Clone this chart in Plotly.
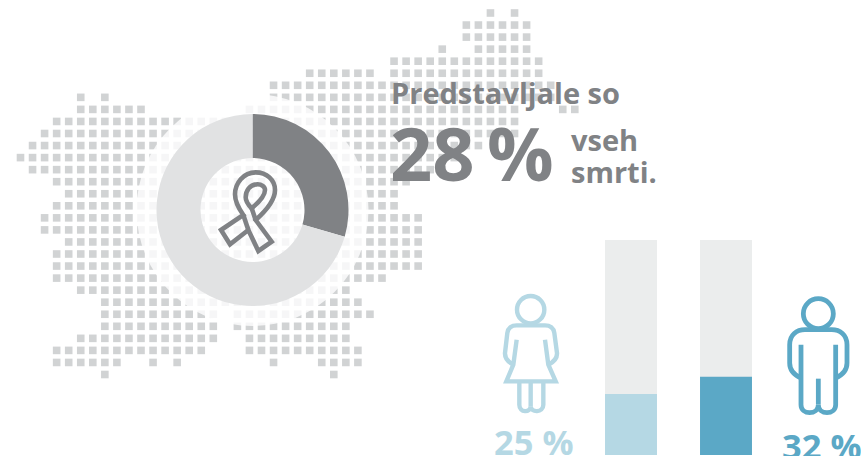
import re
import plotly.graph_objects as go

# ---- data ----
donut_labels = ["Rak", "Drugo"]
donut_values = [29.5, 70.5]  # drawn wedge as measured in the picture (label text says 28 %)
bar_categories = ["Ženske", "Moški"]
bar_values = [25, 32]
bar_track = [88, 88]
bar_labels = ["25 %", "32 %"]

# dot map: for each row, the runs of filled columns
map_rows = [
    [(39, 39), (41, 41)],
    [(37, 42)],
    [(37, 42)],
    [(35, 35), (38, 42)],
    [(31, 43)],
    [(24, 29), (31, 43)],
    [(21, 44)],
    [(5, 5), (7, 7), (21, 44)],
    [(5, 10), (19, 41), (45, 46)],
    [(3, 41)],
    [(2, 41)],
    [(1, 38)],
    [(0, 36)],
    [(1, 35)],
    [(3, 32)],
    [(4, 31)],
    [(3, 31)],
    [(2, 33)],
    [(2, 33)],
    [(4, 33)],
    [(3, 33)],
    [(3, 33)],
    [(3, 30)],
    [(5, 27)],
    [(7, 28)],
    [(7, 16), (18, 29)],
    [(7, 16), (18, 27)],
    [(5, 16), (19, 27)],
    [(3, 15), (19, 28)],
    [(3, 8), (11, 11), (13, 13), (21, 21), (25, 28)],
    [(7, 7), (26, 26)],
]

GRAY = "#808285"
LIGHT_BLUE = "#b5d8e4"
BLUE = "#5ba8c6"

dot_x, dot_y = [], []
for j, runs in enumerate(map_rows):
    for a, b in runs:
        for i in range(a, b + 1):
            dot_x.append(20.5 + 12.05 * i)
            dot_y.append(13 + 12.05 * j)


def zpath(d, ox, oy):
    """Icon outline given in 3x crop units -> page pixels."""
    out, is_x = [], True
    for tok in re.findall(r"[A-Za-z]|-?\d+\.?\d*", d):
        if tok.isalpha():
            out.append(tok)
            is_x = True
        else:
            v = float(tok)
            out.append(f"{(ox if is_x else oy) + v / 3:.2f}")
            is_x = not is_x
    return " ".join(out)


def circle(cx, cy, r):
    return f"M {cx-r} {cy} C {cx-r} {cy-r*.55} {cx-r*.55} {cy-r} {cx} {cy-r} C {cx+r*.55} {cy-r} {cx+r} {cy-r*.55} {cx+r} {cy} C {cx+r} {cy+r*.55} {cx+r*.55} {cy+r} {cx} {cy+r} C {cx-r*.55} {cy+r} {cx-r} {cy+r*.55} {cx-r} {cy} Z"


ribbon = [
    "M 122 22 C 85 22 60 55 60 88 C 60 112 72 132 85 150 L 18 195 L 45 238 L 100 195 L 130 258 L 170 230 L 122 165 C 150 140 180 105 180 75 C 180 45 155 22 122 22 Z",
    "M 125 58 C 105 58 92 78 92 97 C 92 110 100 120 110 130 C 128 115 150 92 150 75 C 150 65 140 57 125 58 Z",
    "M 85 150 L 100 195",
    "M 110 130 L 122 165",
]
female = [
    circle(302, 245, 41),
    "M 260 335 L 250 410 L 229 460 L 377 460 L 355 410 L 345 335",
    "M 250 410 C 235 402 224 392 225 375 L 232 315 C 234 300 245 292 260 292 L 345 292 C 360 292 371 300 373 315 L 381 375 C 382 392 371 402 355 410",
    "M 268 465 L 268 530 C 268 555 302 555 302 535 C 302 555 340 555 340 530 L 340 465",
    "M 302 465 L 302 535",
]
male = [
    circle(1165, 257, 45),
    "M 1113 350 L 1113 530 C 1113 562 1165 562 1165 530 C 1165 562 1217 562 1217 530 L 1217 350",
    "M 1165 452 L 1165 530",
    "M 1113 450 C 1090 440 1079 425 1079 405 L 1079 350 C 1079 320 1100 305 1125 305 L 1205 305 C 1230 305 1251 320 1251 350 L 1251 405 C 1251 425 1240 440 1217 450",
]

shapes = []
for d in ribbon:
    shapes.append(dict(type="path", xref="x", yref="y", path=zpath(d, 215, 165),
                       line=dict(color=GRAY, width=4.6)))
for d in female:
    shapes.append(dict(type="path", xref="x", yref="y", path=zpath(d, 430, 228),
                       line=dict(color=LIGHT_BLUE, width=4.4)))
for d in male:
    shapes.append(dict(type="path", xref="x", yref="y", path=zpath(d, 430, 228),
                       line=dict(color=BLUE, width=4.8)))

W, H = 861, 456
fig = go.Figure()
fig.add_trace(go.Scatter(x=dot_x, y=dot_y, mode="markers", hoverinfo="skip",
                         marker=dict(symbol="square", size=7.6, color="#d1d3d4", line=dict(width=0))))
# translucent white disc behind the donut
fig.add_trace(go.Scatter(x=[252.5], y=[210], mode="markers", hoverinfo="skip",
                         marker=dict(symbol="circle", size=232, color="white", opacity=0.8, line=dict(width=0))))
fig.add_trace(go.Pie(labels=donut_labels, values=donut_values, hole=52 / 96, sort=False,
                     direction="clockwise", rotation=0, textinfo="none", hoverinfo="skip",
                     marker=dict(colors=[GRAY, "#e1e2e3"], line=dict(width=0)),
                     domain=dict(x=[156.5 / W, 348.5 / W], y=[(H - 306) / H, (H - 114) / H])))
fig.add_trace(go.Bar(x=bar_categories, y=bar_track, xaxis="x2", yaxis="y2", width=0.547,
                     marker=dict(color="#ebeded", line=dict(width=0)), hoverinfo="skip"))
fig.add_trace(go.Bar(x=bar_categories, y=bar_values, xaxis="x2", yaxis="y2", width=0.547,
                     marker=dict(color=[LIGHT_BLUE, BLUE], line=dict(width=0)), hoverinfo="skip"))

hidden = dict(visible=False, showgrid=False, zeroline=False, fixedrange=True)
FONT = "Open Sans"


def label(text, x, y, size, color=GRAY):
    return dict(text=text, x=x, y=y, xref="x", yref="y", xanchor="left", yanchor="middle",
                showarrow=False, align="left",
                font=dict(family=FONT, size=size, color=color, weight=700))


annotations = [
    label("Predstavljale so", 389, 92, 29),
    label("28\u2009%", 388, 152, 74),
    label("vseh", 569, 139, 29),
    label("smrti.", 569, 171, 29),
    label(bar_labels[0], 492, 441, 34.5, LIGHT_BLUE),
    label(bar_labels[1], 780, 445, 34.5, BLUE),
]

fig.update_layout(
    width=W, height=H, autosize=False, margin=dict(l=0, r=0, t=0, b=0),
    paper_bgcolor="white", plot_bgcolor="rgba(0,0,0,0)", showlegend=False,
    barmode="overlay", shapes=shapes, annotations=annotations,
    xaxis=dict(range=[0, W], domain=[0, 1], **hidden),
    yaxis=dict(range=[H, 0], domain=[0, 1], **hidden),
    xaxis2=dict(range=[-0.5, 1.5], domain=[583.5 / W, 773.5 / W], anchor="y2", type="category", **hidden),
    yaxis2=dict(range=[0, 88], domain=[1 / H, 216 / H], anchor="x2", **hidden),
)
fig.write_html("out.html", post_script="document.body.style.margin='0';",
               config=dict(displayModeBar=False))
